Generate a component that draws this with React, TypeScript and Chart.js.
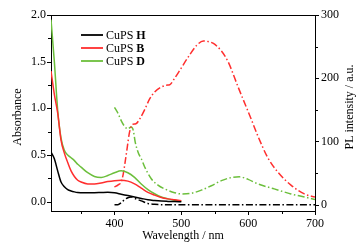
import React, { useEffect, useRef } from "react";
import { Chart, registerables } from "chart.js";

Chart.register(...registerables);

// Absorbance spectra (left axis)
const absWavelength = [305, 310, 315, 320, 325, 330, 335, 340, 345, 350, 360, 370, 380, 390, 400, 410, 420, 430, 440, 450, 460, 470, 480, 490, 500];
const absH = [0.53, 0.46, 0.33, 0.21, 0.16, 0.13, 0.115, 0.105, 0.098, 0.096, 0.095, 0.096, 0.098, 0.1, 0.095, 0.08, 0.065, 0.05, 0.035, 0.02, 0.012, 0.006, 0.003, 0.001, 0];
const absB = [1.4, 1.15, 0.95, 0.66, 0.52, 0.42, 0.33, 0.27, 0.23, 0.21, 0.19, 0.19, 0.2, 0.215, 0.225, 0.23, 0.22, 0.19, 0.145, 0.1, 0.07, 0.045, 0.03, 0.02, 0.01];
const absD = [1.95, 1.5, 0.98, 0.68, 0.55, 0.5, 0.47, 0.44, 0.4, 0.37, 0.31, 0.27, 0.26, 0.28, 0.31, 0.33, 0.31, 0.26, 0.19, 0.13, 0.085, 0.05, 0.03, 0.015, 0.005];

// PL spectra (right axis)
const plWavelengthH = [400, 405, 410, 415, 420, 425, 430, 440, 450, 460, 480, 550, 600, 650, 700];
const plH = [0, 0, 3, 8, 11, 12, 10, 6, 2, 0.5, 0, 0, 0, 0, 0];
const plWavelengthB = [400, 405, 410, 413, 416, 419, 422, 425, 427, 432, 438, 445, 453, 460, 470, 478, 483, 490, 498, 510, 523, 533, 540, 548, 560, 570, 585, 595, 605, 614, 629, 644, 664, 684, 700];
const plB = [28, 31, 36, 48, 68, 90, 112, 124, 127, 128, 136, 150, 168, 178, 186, 189, 190, 200, 213, 233, 252, 259, 258, 255, 243, 226, 186, 160, 134, 110, 75, 52, 31, 17, 12];
const plWavelengthD = [400, 405, 410, 415, 420, 425, 428, 431, 436, 440, 445, 455, 465, 475, 490, 500, 515, 530, 545, 560, 575, 587, 600, 614, 639, 664, 685, 700];
const plD = [154, 145, 133, 124, 120, 123, 118, 99, 81, 73, 60, 41, 31, 25, 19, 17, 18, 23, 30, 38, 43, 44, 40, 33, 25, 17, 12, 8];

const xTicks = [400, 500, 600, 700];
const xMinor = [350, 450, 550, 650];
const yTicks = [0, 0.5, 1.0, 1.5, 2.0];
const yMinor = [0.25, 0.75, 1.25, 1.75];
const y2Ticks = [0, 100, 200, 300];
const y2Minor = [50, 150, 250];

const legendNames = ["CuPS ", "CuPS ", "CuPS "];
const legendBold = ["H", "B", "D"];

const BLACK = "#000000";
const RED = "#ff2e2e";
const GREEN = "#6cbf3c";
const FONT = '"Liberation Serif", "Times New Roman", serif';
const DASHDOT = [7, 2.5, 1.5, 2.5];

const zip = (xs: number[], ys: number[]) => xs.map((x, i) => ({ x, y: ys[i] }));

export default function App() {
  const ref = useRef<HTMLCanvasElement | null>(null);

  useEffect(() => {
    document.body.style.margin = "0";
    const canvas = ref.current;
    if (!canvas) return;

    const decor = {
      id: "decor",
      afterDraw(chart: any) {
        const ctx = chart.ctx;
        const { left, right, top, bottom } = chart.chartArea;
        const sx = chart.scales.x;
        const sy = chart.scales.y;
        const sy2 = chart.scales.y2;
        ctx.save();
        ctx.strokeStyle = "#000";
        ctx.lineWidth = 1;
        // top frame
        ctx.beginPath();
        ctx.moveTo(left, top + 0.5);
        ctx.lineTo(right, top + 0.5);
        ctx.stroke();
        // ticks
        ctx.beginPath();
        const xt = (v: number, len: number) => {
          const p = Math.round(sx.getPixelForValue(v)) + 0.5;
          ctx.moveTo(p, bottom);
          ctx.lineTo(p, bottom + len);
        };
        xTicks.forEach((v) => xt(v, 4));
        xMinor.forEach((v) => xt(v, 3));
        const yt = (v: number, len: number) => {
          const p = Math.round(sy.getPixelForValue(v)) + 0.5;
          ctx.moveTo(left, p);
          ctx.lineTo(left - len, p);
        };
        yTicks.forEach((v) => yt(v, 4));
        yMinor.forEach((v) => yt(v, 3));
        const y2t = (v: number, len: number) => {
          const p = Math.round(sy2.getPixelForValue(v)) + 0.5;
          ctx.moveTo(right, p);
          ctx.lineTo(right + len, p);
        };
        y2Ticks.forEach((v) => y2t(v, 4));
        y2Minor.forEach((v) => y2t(v, 3));
        ctx.stroke();

        // axis titles
        ctx.fillStyle = "#000";
        ctx.font = `12px ${FONT}`;
        ctx.textAlign = "center";
        ctx.textBaseline = "middle";
        ctx.fillText("Wavelength / nm", (left + right) / 2, 236);
        ctx.save();
        ctx.translate(18, 117);
        ctx.rotate(-Math.PI / 2);
        ctx.fillText("Absorbance", 0, 0);
        ctx.restore();
        ctx.save();
        ctx.translate(350, 107);
        ctx.rotate(-Math.PI / 2);
        ctx.fillText("PL intensity / a.u.", 0, 0);
        ctx.restore();

        // legend
        const colors = [BLACK, RED, GREEN];
        const ys = [35, 48, 61];
        ctx.textAlign = "left";
        for (let i = 0; i < 3; i++) {
          ctx.strokeStyle = colors[i];
          ctx.lineWidth = 1.8;
          ctx.beginPath();
          ctx.moveTo(81, ys[i]);
          ctx.lineTo(103, ys[i]);
          ctx.stroke();
          ctx.font = `12px ${FONT}`;
          ctx.fillText(legendNames[i], 106, ys[i] + 0.5);
          const w = ctx.measureText(legendNames[i]).width;
          ctx.font = `bold 12px ${FONT}`;
          ctx.fillText(legendBold[i], 106 + w, ys[i] + 0.5);
        }
        ctx.restore();
      },
    };

    const solid = (label: string, data: any[], color: string) => ({
      label,
      data,
      yAxisID: "y",
      borderColor: color,
      borderWidth: 1.5,
      pointRadius: 0,
      cubicInterpolationMode: "monotone" as const,
      fill: false,
    });
    const dashed = (label: string, data: any[], color: string) => ({
      label,
      data,
      yAxisID: "y2",
      borderColor: color,
      borderWidth: 1.5,
      borderDash: DASHDOT,
      pointRadius: 0,
      cubicInterpolationMode: "monotone" as const,
      fill: false,
    });

    const tickFont = { family: FONT, size: 12 };

    const chart = new Chart(canvas, {
      type: "line",
      data: {
        datasets: [
          solid("Abs H", zip(absWavelength, absH), BLACK),
          solid("Abs B", zip(absWavelength, absB), RED),
          solid("Abs D", zip(absWavelength, absD), GREEN),
          dashed("PL H", zip(plWavelengthH, plH), BLACK),
          dashed("PL B", zip(plWavelengthB, plB), RED),
          dashed("PL D", zip(plWavelengthD, plD), GREEN),
        ],
      },
      options: {
        animation: false,
        responsive: false,
        layout: { padding: { top: 15, left: 0, right: 0, bottom: 0 } },
        plugins: { legend: { display: false }, tooltip: { enabled: false } },
        scales: {
          x: {
            type: "linear",
            min: 305,
            max: 700,
            grid: { display: false, drawTicks: false },
            border: { display: true, color: "#000", width: 1 },
            afterBuildTicks: (s: any) => {
              s.ticks = xTicks.map((v) => ({ value: v }));
            },
            afterFit: (s: any) => {
              s.height = 40;
            },
            ticks: { color: "#000", font: tickFont, padding: 6, maxRotation: 0, callback: (v: any) => String(v) },
          },
          y: {
            type: "linear",
            position: "left",
            min: -0.1,
            max: 2.0,
            grid: { display: false, drawTicks: false },
            border: { display: true, color: "#000", width: 1 },
            afterBuildTicks: (s: any) => {
              s.ticks = yTicks.map((v) => ({ value: v }));
            },
            afterFit: (s: any) => {
              s.width = 51;
            },
            ticks: { color: "#000", font: tickFont, padding: 5, callback: (v: any) => Number(v).toFixed(1) },
          },
          y2: {
            type: "linear",
            position: "right",
            min: -10,
            max: 300,
            grid: { display: false, drawTicks: false },
            border: { display: true, color: "#000", width: 1 },
            afterBuildTicks: (s: any) => {
              s.ticks = y2Ticks.map((v) => ({ value: v }));
            },
            afterFit: (s: any) => {
              s.width = 49;
            },
            ticks: { color: "#000", font: tickFont, padding: 6, callback: (v: any) => String(v) },
          },
        },
      },
      plugins: [decor],
    });

    return () => chart.destroy();
  }, []);

  return (
    <div style={{ width: 364, height: 251, background: "#fff" }}>
      <canvas ref={ref} width={364} height={251} style={{ display: "block" }} />
    </div>
  );
}
